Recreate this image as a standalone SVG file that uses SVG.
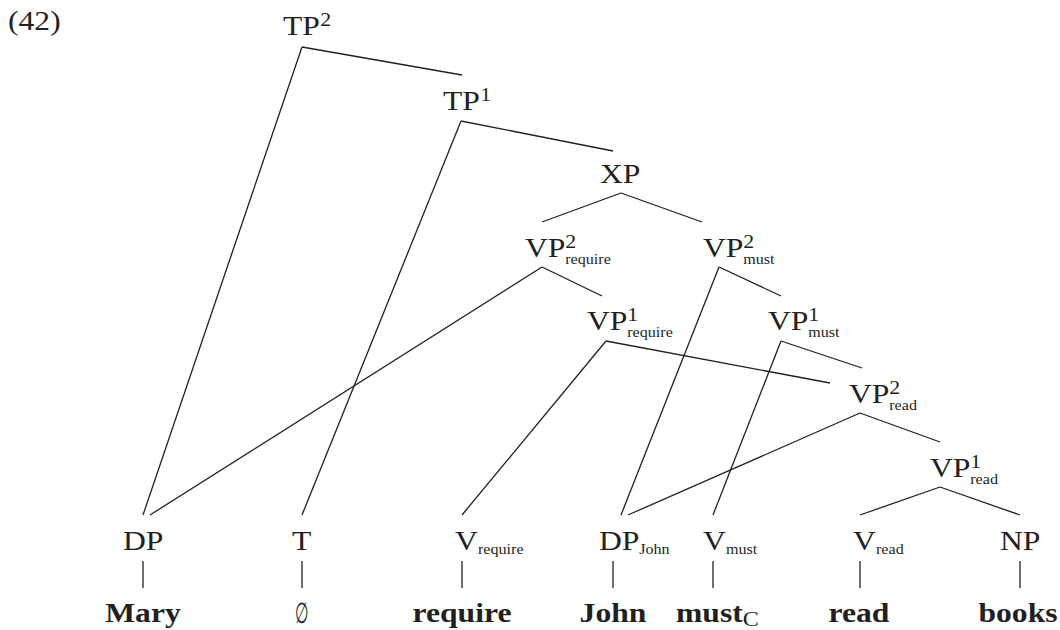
<svg xmlns="http://www.w3.org/2000/svg" width="1060" height="630" viewBox="0 0 1060 630">
<style>
text{font-family:"Liberation Serif","Times New Roman",serif;font-size:27.5px;fill:#231f20}
.b{font-weight:bold}
.sup{font-size:19px}
.sub{font-size:14px}
.c{font-size:21px;font-weight:normal}
.e{font-family:"DejaVu Serif",serif;font-size:26px}
line{stroke:#231f20;stroke-width:1.3;fill:none}
</style>
<rect width="1060" height="630" fill="#fff"/>
<text transform="translate(8,30) scale(1.15,1)">(42)</text>
<g id="connectors">
<line x1="302" y1="47" x2="462" y2="75"/>
<line x1="302" y1="47" x2="143" y2="515"/>
<line x1="461" y1="121" x2="613" y2="151"/>
<line x1="461" y1="121" x2="302" y2="515"/>
<line x1="621" y1="193" x2="542" y2="222"/>
<line x1="621" y1="193" x2="702" y2="222"/>
<line x1="542" y1="267" x2="150" y2="515"/>
<line x1="542" y1="267" x2="602" y2="296"/>
<line x1="719" y1="267" x2="621" y2="515"/>
<line x1="719" y1="267" x2="781" y2="296"/>
<line x1="606" y1="341" x2="462" y2="515"/>
<line x1="606" y1="341" x2="830" y2="383"/>
<line x1="781" y1="341" x2="713" y2="515"/>
<line x1="781" y1="341" x2="862" y2="368"/>
<line x1="860" y1="413" x2="628" y2="515"/>
<line x1="860" y1="413" x2="940" y2="442"/>
<line x1="940" y1="487" x2="860" y2="515"/>
<line x1="940" y1="487" x2="1020" y2="515"/>
<line x1="143" y1="561" x2="143" y2="588"/>
<line x1="302" y1="561" x2="302" y2="588"/>
<line x1="462" y1="561" x2="462" y2="588"/>
<line x1="613" y1="561" x2="613" y2="588"/>
<line x1="713" y1="561" x2="713" y2="588"/>
<line x1="860" y1="561" x2="860" y2="588"/>
<line x1="1020" y1="561" x2="1020" y2="588"/>
</g>
<g id="n-tp2"><text transform="translate(283,35) scale(1.15,1)">TP<tspan class="sup" x="32.5" y="-9">2</tspan></text></g>
<g id="n-tp1"><text transform="translate(443,110) scale(1.15,1)">TP<tspan class="sup" x="32.5" y="-9">1</tspan></text></g>
<g id="n-xp"><text transform="translate(600,183) scale(1.15,1)">XP</text></g>
<g id="n-vp2-require"><text transform="translate(525,257) scale(1.15,1)">VP<tspan class="sup" x="35" y="-9">2</tspan><tspan class="sub" x="35" y="7">require</tspan></text></g>
<g id="n-vp2-must"><text transform="translate(703,257) scale(1.15,1)">VP<tspan class="sup" x="35" y="-9">2</tspan><tspan class="sub" x="35" y="7">must</tspan></text></g>
<g id="n-vp1-require"><text transform="translate(587,330) scale(1.15,1)">VP<tspan class="sup" x="35" y="-9">1</tspan><tspan class="sub" x="35" y="7">require</tspan></text></g>
<g id="n-vp1-must"><text transform="translate(768,330) scale(1.15,1)">VP<tspan class="sup" x="35" y="-9">1</tspan><tspan class="sub" x="35" y="7">must</tspan></text></g>
<g id="n-vp2-read"><text transform="translate(849,403) scale(1.15,1)">VP<tspan class="sup" x="35" y="-9">2</tspan><tspan class="sub" x="35" y="7">read</tspan></text></g>
<g id="n-vp1-read"><text transform="translate(930,477) scale(1.15,1)">VP<tspan class="sup" x="35" y="-9">1</tspan><tspan class="sub" x="35" y="7">read</tspan></text></g>
<g id="n-dp"><text transform="translate(123,550) scale(1.15,1)">DP</text><text class="b" text-anchor="middle" transform="translate(143,622) scale(1.15,1)">Mary</text></g>
<g id="n-t"><text transform="translate(292,550) scale(1.15,1)">T</text><text class="e" text-anchor="middle" transform="translate(302,623) scale(0.6,1.12)">∅</text></g>
<g id="n-v-require"><text transform="translate(455,550) scale(1.15,1)">V<tspan class="sub" x="20" y="4">require</tspan></text><text class="b" text-anchor="middle" transform="translate(462,622) scale(1.15,1)">require</text></g>
<g id="n-dp-john"><text transform="translate(599,550) scale(1.15,1)">DP<tspan class="sub" x="35" y="4">John</tspan></text><text class="b" text-anchor="middle" transform="translate(613,622) scale(1.15,1)">John</text></g>
<g id="n-v-must"><text transform="translate(703,550) scale(1.15,1)">V<tspan class="sub" x="20" y="4">must</tspan></text><text class="b" transform="translate(676,622) scale(1.15,1)">must<tspan class="c" dy="4">C</tspan></text></g>
<g id="n-v-read"><text transform="translate(853,550) scale(1.15,1)">V<tspan class="sub" x="20" y="4">read</tspan></text><text class="b" text-anchor="middle" transform="translate(859,622) scale(1.15,1)">read</text></g>
<g id="n-np"><text transform="translate(1000,550) scale(1.15,1)">NP</text><text class="b" text-anchor="middle" transform="translate(1018,622) scale(1.15,1)">books</text></g>
</svg>
